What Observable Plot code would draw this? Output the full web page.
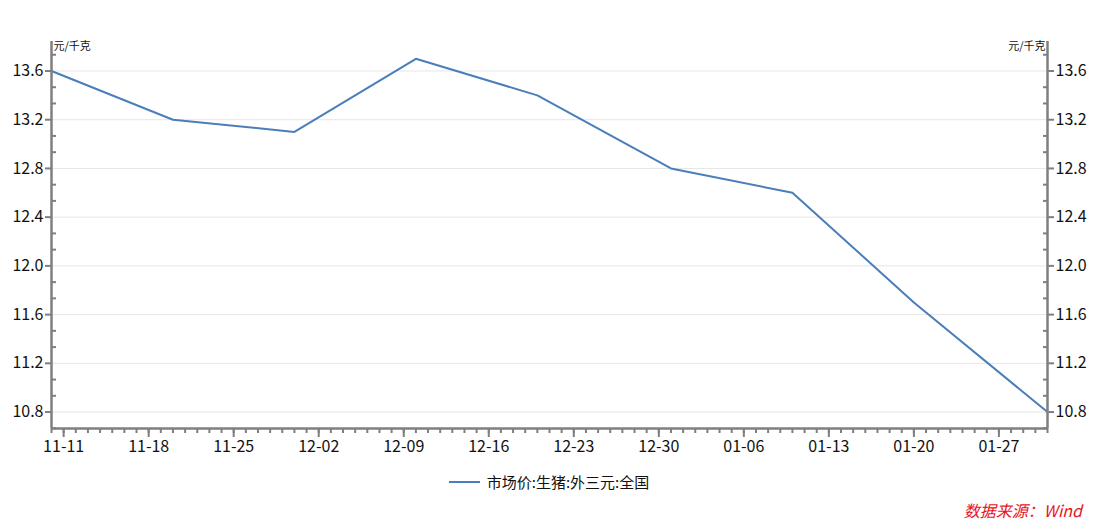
<!DOCTYPE html>
<html><head><meta charset="utf-8">
<script src="https://cdn.jsdelivr.net/npm/d3@7"></script>
<script src="https://cdn.jsdelivr.net/npm/@observablehq/plot@0.6"></script>
<style>
body{margin:0;background:#fff;font-family:"Noto Sans CJK SC","Open Sans",sans-serif;}
#wrap{position:relative;width:1098px;height:521px;overflow:hidden;}
#legend{position:absolute;left:0;width:1098px;top:471px;display:flex;justify-content:center;align-items:center;font-size:15px;color:#111;}
#legend .sw{display:inline-block;width:31px;height:2px;background:#4a7ebb;margin-right:7px;}
#source{position:absolute;right:16px;top:498px;font-size:16px;font-style:italic;color:#e8141b;}
</style></head>
<body>
<div id="wrap"><div id="chart"></div>
<div id="legend"><span class="sw"></span><span id="legtext"></span></div>
<div id="source"></div></div>
<script>
const seriesName = "市场价:生猪:外三元:全国";
const unitLabel = "元/千克";
const sourceText = "数据来源：Wind";
const dates = ["2020-11-10","2020-11-20","2020-11-30","2020-12-10","2020-12-20","2020-12-31","2021-01-10","2021-01-20","2021-01-31"];
const values = [13.6, 13.2, 13.1, 13.7, 13.4, 12.8, 12.6, 11.7, 10.8];
const xTickLabels = ["11-11","11-18","11-25","12-02","12-09","12-16","12-23","12-30","01-06","01-13","01-20","01-27"];
const yTickValues = [10.8, 11.2, 11.6, 12.0, 12.4, 12.8, 13.2, 13.6];

const parse = d3.utcParse("%Y-%m-%d");
const data = dates.map((d, i) => ({date: parse(d), value: values[i]}));
const xDomain = [data[0].date, data[data.length - 1].date];
const yDomain = [10.665, 13.842];
const xTickDates = xTickLabels.map(s => parse((s.startsWith("01") ? "2021-" : "2020-") + s));
const xDaily = d3.utcDay.range(xDomain[0], d3.utcDay.offset(xDomain[1], 1));
const step = 0.4 / 3;
const yMinor = d3.range(-1, 23).map(i => +(10.8 + i * step).toFixed(4)).filter(v => v >= yDomain[0] && v <= yDomain[1] && !yTickValues.some(t => Math.abs(t - v) < 1e-6));

const axisColor = "#7f7f7f";
const textColor = "#111";
const chart = Plot.plot({
  width: 1098, height: 465,
  marginLeft: 51, marginRight: 51, marginTop: 41, marginBottom: 37,
  style: {fontFamily: '"Noto Sans CJK SC","Open Sans",sans-serif', background: "#fff"},
  x: {type: "utc", domain: xDomain},
  y: {domain: yDomain},
  marks: [
    Plot.gridY(yTickValues, {stroke: "#e6e6e6", strokeOpacity: 1, strokeWidth: 1}),
    Plot.line(data, {x: "date", y: "value", stroke: "#4a7ebb", strokeWidth: 2}),
    Plot.axisX(xDaily, {anchor: "bottom", tickSize: 5, text: null, stroke: axisColor, strokeWidth: 2}),
    Plot.axisX(xTickDates, {anchor: "bottom", tickSize: 9, tickPadding: 3, tickFormat: "%m-%d", fontSize: 16, fill: textColor, stroke: axisColor, strokeWidth: 2, label: null}),
    Plot.axisY(yTickValues, {anchor: "left", tickSize: 6, tickPadding: 2, tickFormat: d => d.toFixed(1), fontSize: 16, fill: textColor, stroke: axisColor, strokeWidth: 2, label: null}),
    Plot.axisY(yMinor, {anchor: "left", tickSize: -5, text: null, stroke: axisColor, strokeWidth: 2, label: null}),
    Plot.axisY(yTickValues, {anchor: "right", tickSize: 6, tickPadding: 2, tickFormat: d => d.toFixed(1), fontSize: 16, fill: textColor, stroke: axisColor, strokeWidth: 2, label: null}),
    Plot.axisY(yMinor, {anchor: "right", tickSize: -5, text: null, stroke: axisColor, strokeWidth: 2, label: null}),
    Plot.ruleX([xDomain[0]], {stroke: axisColor, strokeWidth: 2.5}),
    Plot.ruleX([xDomain[1]], {stroke: axisColor, strokeWidth: 2.5}),
    Plot.ruleY([yDomain[0]], {stroke: axisColor, strokeWidth: 2.5}),
    Plot.text([unitLabel], {frameAnchor: "top-left", textAnchor: "start", dx: 2, dy: 1, fontSize: 11, fill: textColor}),
    Plot.text([unitLabel], {frameAnchor: "top-right", textAnchor: "end", dx: -2, dy: 1, fontSize: 11, fill: textColor})
  ]
});
document.getElementById("chart").appendChild(chart);
document.getElementById("legtext").textContent = seriesName;
document.getElementById("source").textContent = sourceText;
</script>
</body></html>
